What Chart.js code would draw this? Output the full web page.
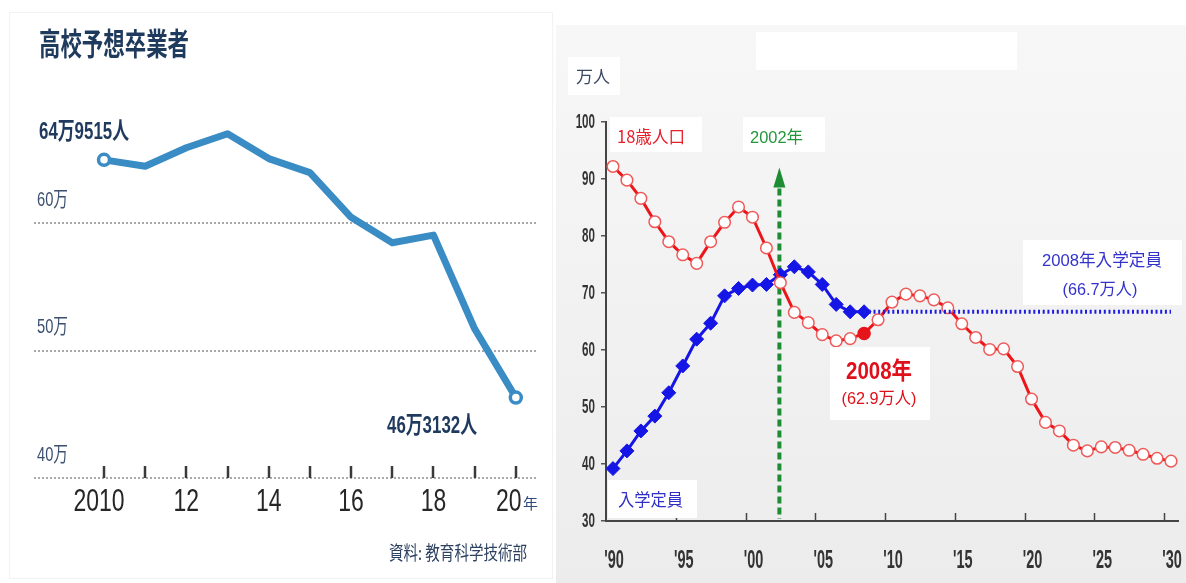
<!DOCTYPE html>
<html>
<head>
<meta charset="utf-8">
<script src="https://cdn.jsdelivr.net/npm/chart.js@4.4.1/dist/chart.umd.min.js"></script>
<style>
  html, body { margin: 0; padding: 0; background: #fff; width: 1186px; height: 583px; overflow: hidden; }
  #left { position: absolute; left: 0; top: 0; }
  #right { position: absolute; left: 556px; top: 0; }
</style>
</head>
<body>
<canvas id="left" width="556" height="583"></canvas>
<canvas id="right" width="630" height="583"></canvas>
<script>
// ---- 高校予想卒業者 (単位: 万人) ----
const gradYears = [2010, 2011, 2012, 2013, 2014, 2015, 2016, 2017, 2018, 2019, 2020];
const gradValues = [64.9515, 64.45, 65.9, 67.0, 65.05, 63.95, 60.45, 58.45, 59.05, 51.7, 46.3132];
const gradYTicks = [40, 50, 60];
const gradYTickLabels = ['40万', '50万', '60万'];
const gradXTickLabels = ['2010', '', '12', '', '14', '', '16', '', '18', '', '20'];
const gradFirstLabel = '64万9515人';
const gradLastLabel = '46万3132人';

// ---- 18歳人口と入学定員 (単位: 万人) ----
const popYears = [1990, 1991, 1992, 1993, 1994, 1995, 1996, 1997, 1998, 1999,
                  2000, 2001, 2002, 2003, 2004, 2005, 2006, 2007, 2008, 2009,
                  2010, 2011, 2012, 2013, 2014, 2015, 2016, 2017, 2018, 2019,
                  2020, 2021, 2022, 2023, 2024, 2025, 2026, 2027, 2028, 2029, 2030];
const pop18 = [92.2, 89.8, 86.6, 82.5, 79.0, 76.7, 75.2, 79.0, 82.4, 85.1,
               83.3, 77.9, 71.8, 66.6, 64.8, 62.7, 61.6, 62.0, 62.9, 65.3,
               68.4, 69.8, 69.5, 68.8, 67.4, 64.6, 62.2, 60.1, 60.2, 57.1,
               51.4, 47.3, 45.8, 43.3, 42.3, 43.0, 42.9, 42.4, 41.7, 41.0, 40.5];
const capYears = [1990, 1991, 1992, 1993, 1994, 1995, 1996, 1997, 1998, 1999,
                  2000, 2001, 2002, 2003, 2004, 2005, 2006, 2007, 2008];
const capacity = [39.2, 42.3, 45.8, 48.4, 52.5, 57.2, 61.9, 64.7, 69.5, 70.8,
                  71.4, 71.5, 73.2, 74.6, 73.7, 71.5, 68.0, 66.7, 66.7];
const capacityFixed = 66.7;          // 2008年の入学定員を据え置き
const capacityFixedRange = [2008, 2030];
const popYTicks = [30, 40, 50, 60, 70, 80, 90, 100];
const popXTicks = [1990, 1995, 2000, 2005, 2010, 2015, 2020, 2025, 2030];
const popXTickLabels = ["'90", "'95", "'00", "'05", "'10", "'15", "'20", "'25", "'30"];
const markerYear = 2002;
const markerTop = 92;
const highlightYear = 2008;

const SANS = '"Liberation Sans", "Noto Sans CJK JP", sans-serif';
const CJK = '"Noto Sans CJK JP", sans-serif';

// Text squeezed horizontally, either to a fixed ratio or to a given width.
function fitText(ctx, text, x, y, o) {
  ctx.save();
  ctx.font = (o.weight || 'normal') + ' ' + o.size + 'px ' + (o.family || SANS);
  ctx.fillStyle = o.color;
  ctx.textBaseline = 'middle';
  ctx.textAlign = 'left';
  const w = ctx.measureText(text).width;
  const sx = o.width ? o.width / w : (o.sx || 1);
  const tw = w * sx;
  const x0 = o.align === 'center' ? x - tw / 2 : (o.align === 'right' ? x - tw : x);
  ctx.translate(x0, y);
  ctx.scale(sx, 1);
  ctx.fillText(text, 0, 0);
  ctx.restore();
}

function box(ctx, x, y, w, h, color) {
  ctx.save();
  ctx.fillStyle = color || '#fff';
  ctx.fillRect(x, y, w, h);
  ctx.restore();
}

// ---------- left: 高校予想卒業者 ----------
const leftDecor = {
  id: 'leftDecor',
  beforeDraw(chart) {
    const ctx = chart.ctx;
    ctx.save();
    ctx.fillStyle = '#fff';
    ctx.fillRect(0, 0, chart.width, chart.height);
    ctx.strokeStyle = '#f2f2f2';
    ctx.lineWidth = 1;
    ctx.strokeRect(9.5, 12.5, 543, 566);
    ctx.restore();
  },
  afterDraw(chart) {
    const ctx = chart.ctx;
    const xs = chart.scales.x, ys = chart.scales.y;
    const base = ys.getPixelForValue(gradYTicks[0]);

    // title
    fitText(ctx, '高校予想卒業者', 39, 43, { size: 31, weight: 'bold', family: CJK, color: '#1e3a5c', width: 150 });

    // y tick labels, sitting above their grid lines
    gradYTicks.forEach((v, i) => {
      fitText(ctx, gradYTickLabels[i], 37, ys.getPixelForValue(v) - 23, { size: 21, color: '#3b4f70', width: 31 });
    });

    // x tick marks and labels
    ctx.save();
    ctx.strokeStyle = '#3a3a3a';
    ctx.lineWidth = 2.5;
    gradYears.forEach((yr) => {
      const px = Math.round(xs.getPixelForValue(yr));
      ctx.beginPath();
      ctx.moveTo(px, base - 12);
      ctx.lineTo(px, base);
      ctx.stroke();
    });
    ctx.restore();
    gradYears.forEach((yr, i) => {
      const t = gradXTickLabels[i];
      if (!t) return;
      fitText(ctx, t, xs.getPixelForValue(yr) - (i === 0 ? 5 : 0) - (i === gradYears.length - 1 ? 7 : 0), 502,
        { size: 31, color: '#262626', sx: 0.74, align: 'center' });
    });
    fitText(ctx, '年', 523, 503, { size: 15, family: CJK, color: '#2c4a7a' });

    // value labels at both ends
    fitText(ctx, gradFirstLabel, 39, 132, { size: 24, weight: 'bold', color: '#1f3a5e', width: 90 });
    fitText(ctx, gradLastLabel, 387, 426, { size: 24, weight: 'bold', color: '#1f3a5e', width: 90 });

    // source
    fitText(ctx, '資料: 教育科学技術部', 389, 553, { size: 19, family: CJK, color: '#2c4060', width: 138 });
  }
};

new Chart(document.getElementById('left'), {
  type: 'line',
  data: {
    datasets: [{
      data: gradYears.map((x, i) => ({ x, y: gradValues[i] })),
      borderColor: '#3a8cc4',
      borderWidth: 7,
      borderJoinStyle: 'round',
      borderCapStyle: 'round',
      tension: 0,
      pointRadius: c => (c.dataIndex === 0 || c.dataIndex === gradYears.length - 1) ? 5.5 : 0,
      pointHoverRadius: 0,
      pointBackgroundColor: '#fff',
      pointBorderColor: '#3a8cc4',
      pointBorderWidth: 3.5
    }]
  },
  options: {
    responsive: false,
    animation: false,
    devicePixelRatio: 1,
    layout: { padding: { left: 34, right: 20, top: 95.5, bottom: 105 } },
    plugins: { legend: { display: false }, tooltip: { enabled: false } },
    scales: {
      x: { type: 'linear', min: 2008.3, max: 2020.49, display: false },
      y: {
        type: 'linear', min: 40, max: 70, position: 'left',
        afterFit: s => { s.width = 0; },
        afterBuildTicks: s => { s.ticks = gradYTicks.map(v => ({ value: v })); },
        ticks: { display: false },
        grid: { color: '#a9a9a9', lineWidth: 2, drawTicks: false },
        border: { display: false, dash: [2, 2] }
      }
    }
  },
  plugins: [leftDecor]
});

// ---------- right: 18歳人口と入学定員 ----------
const rightDecor = {
  id: 'rightDecor',
  beforeDraw(chart) {
    const ctx = chart.ctx;
    ctx.save();
    ctx.fillStyle = '#fff';
    ctx.fillRect(0, 0, chart.width, chart.height);
    const g = ctx.createLinearGradient(0, 25, 0, chart.height);
    g.addColorStop(0, '#f7f7f7');
    g.addColorStop(1, '#ececec');
    ctx.fillStyle = g;
    ctx.fillRect(0, 25, chart.width, chart.height - 25);
    ctx.restore();
    box(ctx, 200, 32, 261, 38);
  },
  beforeDatasetsDraw(chart) {
    // 2002年 marker: dashed green arrow
    const ctx = chart.ctx;
    const xs = chart.scales.x, ys = chart.scales.y;
    const px = xs.getPixelForValue(markerYear) - 1;
    const tip = ys.getPixelForValue(markerTop);
    const bottom = ys.getPixelForValue(popYTicks[0]);
    ctx.save();
    ctx.strokeStyle = '#1e8c32';
    ctx.fillStyle = '#1e8c32';
    ctx.lineWidth = 4;
    ctx.setLineDash([7, 4]);
    ctx.beginPath();
    ctx.moveTo(px, tip + 21);
    ctx.lineTo(px, bottom - 2);
    ctx.stroke();
    ctx.setLineDash([]);
    ctx.beginPath();
    ctx.moveTo(px, tip);
    ctx.lineTo(px - 6, tip + 20);
    ctx.lineTo(px + 6, tip + 20);
    ctx.closePath();
    ctx.fill();
    ctx.restore();
  },
  afterDraw(chart) {
    const ctx = chart.ctx;
    const xs = chart.scales.x, ys = chart.scales.y;
    const base = ys.getPixelForValue(popYTicks[0]);

    // x tick marks between year groups, pointing up from the axis
    ctx.save();
    ctx.strokeStyle = '#444';
    ctx.lineWidth = 1.5;
    popXTicks.slice(1).forEach(v => {
      const px = Math.round(xs.getPixelForValue(v - 0.5)) + 0.5;
      ctx.beginPath();
      ctx.moveTo(px, base - 8);
      ctx.lineTo(px, base);
      ctx.stroke();
    });
    ctx.restore();

    // tick labels
    popYTicks.forEach(v => {
      fitText(ctx, String(v), 39, ys.getPixelForValue(v), { size: 20, weight: 'bold', color: '#333', sx: 0.58, align: 'right' });
    });
    popXTicks.forEach((v, i) => {
      fitText(ctx, popXTickLabels[i], xs.getPixelForValue(v) + 1, 561, { size: 25, weight: 'bold', color: '#333', sx: 0.58, align: 'center' });
    });

    // unit
    box(ctx, 12, 57, 52, 38);
    fitText(ctx, '万人', 20, 77, { size: 17, family: CJK, color: '#3a4862', width: 34 });

    // series names
    box(ctx, 54, 117, 92, 35);
    fitText(ctx, '18歳人口', 61, 137, { size: 17, family: CJK, color: '#e8202a', width: 68 });
    box(ctx, 52, 480, 89, 38);
    fitText(ctx, '入学定員', 62, 500, { size: 17, family: CJK, color: '#3030c8', width: 65 });

    // 2002年
    box(ctx, 187, 117, 82, 35);
    fitText(ctx, '2002年', 194, 138, { size: 17, family: SANS, color: '#23963c', width: 53 });

    // 2008年 18歳人口
    box(ctx, 274, 347, 100, 73);
    fitText(ctx, '2008年', 323, 372, { size: 24, weight: 'bold', color: '#e0101a', width: 66, align: 'center' });
    fitText(ctx, '(62.9万人)', 323, 399, { size: 17, color: '#e0101a', width: 75, align: 'center' });

    // 2008年 入学定員
    box(ctx, 467, 240, 159, 65);
    fitText(ctx, '2008年入学定員', 546, 261, { size: 17, color: '#3333cc', width: 120, align: 'center' });
    fitText(ctx, '(66.7万人)', 544, 290, { size: 17, color: '#3333cc', width: 75, align: 'center' });
  }
};

new Chart(document.getElementById('right'), {
  type: 'line',
  data: {
    datasets: [
      {
        label: '入学定員',
        data: capYears.map((x, i) => ({ x, y: capacity[i] })),
        borderColor: '#1515e6',
        borderWidth: 3,
        tension: 0,
        pointStyle: 'rectRot',
        pointRadius: 7,
        pointHoverRadius: 0,
        pointBackgroundColor: '#1515e6',
        pointBorderColor: '#1515e6',
        pointBorderWidth: 1,
        order: 3
      },
      {
        label: '18歳人口',
        data: popYears.map((x, i) => ({ x, y: pop18[i] })),
        borderColor: '#ee1519',
        borderWidth: 3,
        tension: 0,
        pointRadius: c => popYears[c.dataIndex] === highlightYear ? 6 : 5.8,
        pointHoverRadius: 0,
        pointBackgroundColor: c => popYears[c.dataIndex] === highlightYear ? '#e8141b' : '#ffffff',
        pointBorderColor: c => popYears[c.dataIndex] === highlightYear ? '#e8141b' : '#ee5a5a',
        pointBorderWidth: 1.5,
        order: 2
      },
      {
        label: '2008年入学定員',
        data: capacityFixedRange.map(x => ({ x, y: capacityFixed })),
        borderColor: '#1c1ce0',
        borderWidth: 4,
        borderDash: [2, 2.7],
        pointRadius: 0,
        pointHoverRadius: 0,
        order: 1
      }
    ]
  },
  options: {
    responsive: false,
    animation: false,
    devicePixelRatio: 1,
    layout: { padding: { left: 0, right: 2, top: 122, bottom: 0 } },
    plugins: { legend: { display: false }, tooltip: { enabled: false } },
    scales: {
      x: {
        type: 'linear', min: 1989.5, max: 2030.5, position: 'bottom',
        afterFit: s => { s.height = 62; },
        afterBuildTicks: s => { s.ticks = popXTicks.map(v => ({ value: v })); },
        ticks: { display: false },
        grid: { display: false },
        border: { display: true, color: '#444', width: 2 }
      },
      y: {
        type: 'linear', min: 30, max: 100, position: 'left',
        afterFit: s => { s.width = 50; },
        afterBuildTicks: s => { s.ticks = popYTicks.map(v => ({ value: v })); },
        ticks: { display: false },
        grid: { drawOnChartArea: false, drawTicks: true, tickLength: 5, color: '#555', lineWidth: 1.5 },
        border: { display: true, color: '#444', width: 2 }
      }
    }
  },
  plugins: [rightDecor]
});
</script>
</body>
</html>
